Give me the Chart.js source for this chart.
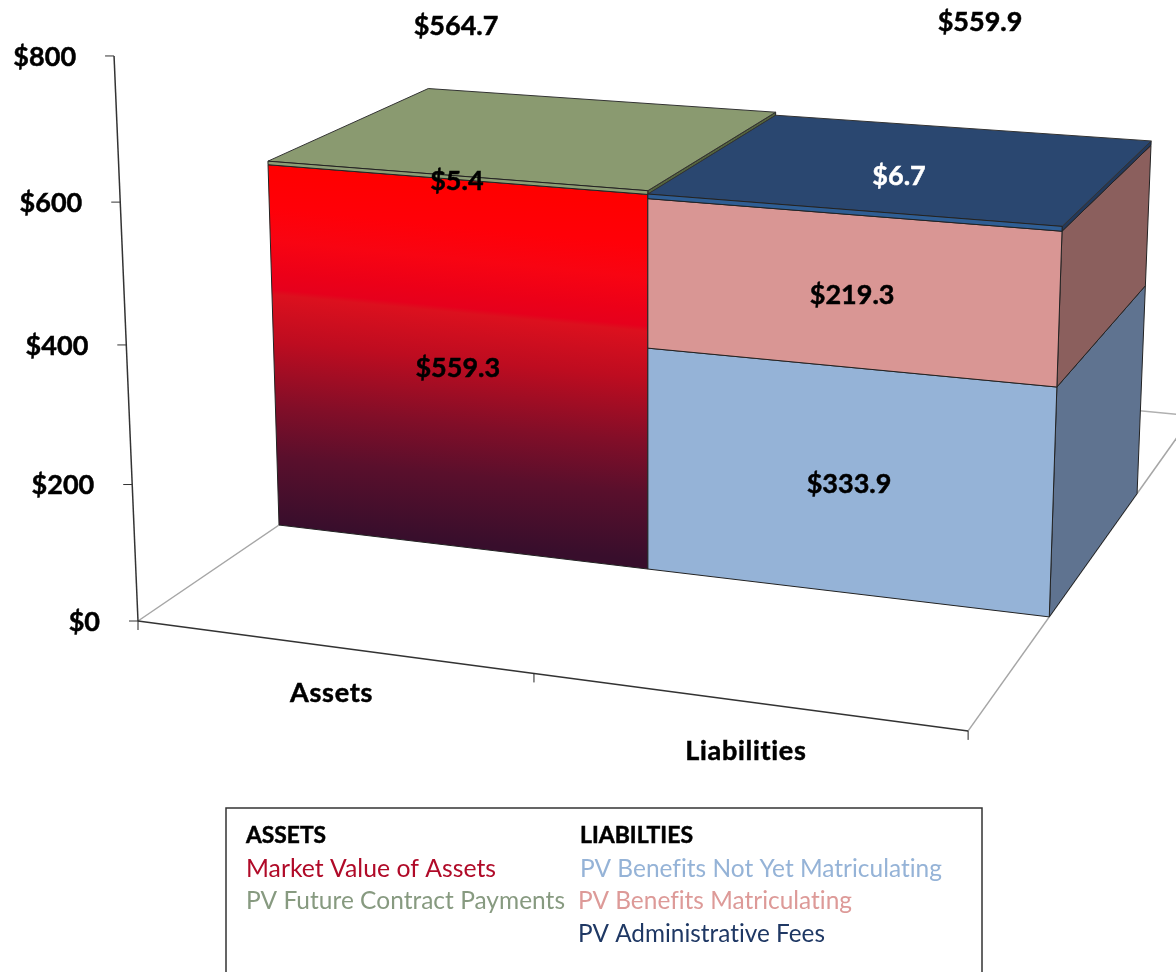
<!DOCTYPE html>
<html>
<head>
<meta charset="utf-8">
<script src="https://cdn.jsdelivr.net/npm/chart.js@4/dist/chart.umd.min.js"></script>
<style>
  html, body { margin: 0; padding: 0; background: #fff; overflow: hidden; }
  canvas { display: block; }
</style>
</head>
<body>
<canvas id="myChart" width="1176" height="972"></canvas>
<script>
// values in $ millions
var categories      = ['Assets', 'Liabilities'];
var market_value    = [559.3, null];
var future_payments = [5.4, null];
var not_matric      = [null, 333.9];
var matriculating   = [null, 219.3];
var admin_fees      = [null, 6.7];
var totals          = [564.7, 559.9];
var y_ticks         = [0, 200, 400, 600, 800];

var legend_heads = ['ASSETS', 'LIABILTIES'];

function money(v){
    return '$' + (Number.isInteger(v) ? v : v.toFixed(1));
}

// camera for the fake 3D look: vanishing points of the three axes + origin
var cam = {
    a: -0.088, b: -0.00005586,
    vx: [-8465, -518], vy: [650, 12700], vz: [1900, -578],
    o: [138, 621]
};
var bar_front = 0.087, bar_back = 0.202, floor_back = 0.289;

function project(u, val, d){
    var wx = cam.a * u, wy = cam.b * val;
    var den = 1 + wx + wy + d;
    return {
        x: (wx * cam.vx[0] + wy * cam.vy[0] + d * cam.vz[0] + cam.o[0]) / den,
        y: (wx * cam.vx[1] + wy * cam.vy[1] + d * cam.vz[1] + cam.o[1]) / den
    };
}

function poly(ctx, pts, fill, stroke){
    ctx.beginPath();
    pts.forEach(function(p, i){ i ? ctx.lineTo(p.x, p.y) : ctx.moveTo(p.x, p.y); });
    ctx.closePath();
    ctx.fillStyle = fill;
    ctx.fill();
    ctx.strokeStyle = stroke || '#222';
    ctx.lineWidth = 1;
    ctx.stroke();
}

function line(ctx, a, b, color, w){
    ctx.beginPath();
    ctx.moveTo(a.x, a.y);
    ctx.lineTo(b.x, b.y);
    ctx.strokeStyle = color;
    ctx.lineWidth = w;
    ctx.stroke();
}

function text(ctx, str, x, y, font, color, align, maxw, spacing){
    ctx.font = font;
    ctx.fillStyle = color;
    ctx.textAlign = align || 'center';
    ctx.textBaseline = 'middle';
    ctx.letterSpacing = spacing || '0.01px';  // also keeps Lato from joining the "ti"
    if (maxw) ctx.fillText(str, x, y + 1, maxw); else ctx.fillText(str, x, y + 1);
    if (font.indexOf('bold') === 0){
        // Lato bold is a bit thin next to the original face
        ctx.strokeStyle = color;
        ctx.lineWidth = 0.5;
        if (maxw) ctx.strokeText(str, x, y + 1, maxw); else ctx.strokeText(str, x, y + 1);
    }
    ctx.letterSpacing = '0px';
}

var BOLD = 'bold 27px Lato';
var LEG  = '25px Lato';

var data = {
    labels: categories,
    datasets: [
        { label: 'Market Value of Assets', data: market_value, stack: 's', backgroundColor: '#ff0000',
          side: '#7a0a20', top: '#c0101a', legendColor: '#b00a28', legendPos: [246, 868], legendW: 250 },
        { label: 'PV Future Contract Payments', data: future_payments, stack: 's', backgroundColor: '#8d9e74',
          side: '#55653f', top: '#8a9a70', legendColor: '#879a80', legendPos: [246, 900], legendW: 319 },
        { label: 'PV Benefits Not Yet Matriculating', data: not_matric, stack: 's', backgroundColor: '#95b3d7',
          side: '#5f7390', top: '#95b3d7', legendColor: '#95b3d7', legendPos: [580, 868], legendW: 362 },
        { label: 'PV Benefits Matriculating', data: matriculating, stack: 's', backgroundColor: '#d99694',
          side: '#8b5f5d', top: '#d99694', legendColor: '#dd9a98', legendPos: [578, 900], legendW: 274 },
        { label: 'PV Administrative Fees', data: admin_fees, stack: 's', backgroundColor: '#2f5e94',
          side: '#22395c', top: '#2a4770', legendColor: '#1f3864', legendPos: [578, 933], legendW: 247 }
    ]
};

// pixel nudges for labels that sit off their segment in the original
var label_shift = { 0: [1, 2], 1: [3, 3], 2: [3, 2], 3: [3, 3], 4: [-9, 9] };
var total_shift = [[-74, -111], [72, -145]];

var bars3d = {
    id: 'bars3d',
    beforeDatasetsDraw: function(){ return false; },
    afterDraw: function(chart){
        var ctx = chart.ctx;
        var xs = chart.scales.x, ys = chart.scales.y;
        var toU = function(px){ return (px - xs.left) / xs.width; };
        ctx.save();

        // floor edges
        line(ctx, project(0, 0, 0), project(0, 0, floor_back), '#a6a6a6', 1.5);
        line(ctx, project(1, 0, 0), project(1, 0, floor_back), '#a6a6a6', 1.5);
        line(ctx, project(0, 0, floor_back), project(1, 0, floor_back), '#b0b0b0', 1.5);

        // axes
        line(ctx, project(0, 0, 0), project(0, ys.max, 0), '#333', 1.5);
        line(ctx, project(0, 0, 0), project(1, 0, 0), '#333', 1.5);
        ys.getTicks().forEach(function(t){
            var p = project(0, t.value, 0);
            line(ctx, {x: p.x - 9, y: p.y}, p, '#333', 1);
            text(ctx, money(t.value), p.x - 38, p.y, BOLD, '#000', 'right');
        });
        for (var i = 0; i <= categories.length; i++){
            var p = project(i / categories.length, 0, 0);
            line(ctx, p, {x: p.x, y: p.y + 9}, '#222', 1);
        }
        categories.forEach(function(c, i){
            var p = project(toU(xs.getPixelForTick(i)), 0, 0);
            text(ctx, c, p.x, p.y + 46 + 3 * i, BOLD, '#000', 'center', null, '0.7px');
        });

        // bars, one stack after the other, lowest segment first
        var labels = [];
        categories.forEach(function(c, j){
            data.datasets.forEach(function(ds, k){
                if (ds.data[j] == null) return;
                var el = chart.getDatasetMeta(k).data[j];
                var u0 = toU(el.x - el.width / 2), u1 = toU(el.x + el.width / 2);
                var v0 = ys.getValueForPixel(el.base), v1 = ys.getValueForPixel(el.y);

                poly(ctx, [project(u1, v0, bar_front), project(u1, v0, bar_back),
                           project(u1, v1, bar_back), project(u1, v1, bar_front)], ds.side);
                poly(ctx, [project(u0, v1, bar_front), project(u1, v1, bar_front),
                           project(u1, v1, bar_back), project(u0, v1, bar_back)], ds.top, '#333');

                var fill = ds.backgroundColor;
                if (k === 0){
                    // front of the market value bar fades to dark, colour bands run along the face
                    var a = project(u0, v1, bar_front), r = project(u1, v1, bar_front);
                    var l = project(u0, v0, bar_front), b = project(u1, v0, bar_front);
                    var ex = (r.x - a.x) + (b.x - l.x), ey = (r.y - a.y) + (b.y - l.y);
                    var t = ((l.x - a.x) * (-ey) + (l.y - a.y) * ex) / (ex * ex + ey * ey);
                    fill = ctx.createLinearGradient(a.x, a.y, a.x - ey * t, a.y + ex * t);
                    fill.addColorStop(0, '#ff0000');
                    fill.addColorStop(0.12, '#ff0008');
                    fill.addColorStop(0.21, '#f80412');
                    fill.addColorStop(0.3, '#ec0018');
                    fill.addColorStop(0.345, '#e6001c');
                    fill.addColorStop(0.36, '#dc101e');
                    fill.addColorStop(0.49, '#be0c20');
                    fill.addColorStop(0.67, '#820e28');
                    fill.addColorStop(0.81, '#5a0f2c');
                    fill.addColorStop(1, '#380e2c');
                }
                poly(ctx, [project(u0, v0, bar_front), project(u1, v0, bar_front),
                           project(u1, v1, bar_front), project(u0, v1, bar_front)], fill);

                var m = project((u0 + u1) / 2, (v0 + v1) / 2, bar_front);
                var sh = label_shift[k] || [0, 0];
                if (k === 4) m = project((u0 + u1) / 2, v1, (bar_front + bar_back) / 2);
                labels.push({ str: money(ds.data[j]), x: m.x + sh[0], y: m.y + sh[1], color: k === 4 ? '#fff' : '#000' });
            });
        });
        labels.forEach(function(l){ text(ctx, l.str, l.x, l.y, BOLD, l.color); });

        // totals float above the stacks
        totals.forEach(function(v, j){
            var p = project(toU(xs.getPixelForTick(j)), v, (bar_front + bar_back) / 2);
            text(ctx, money(v), p.x + total_shift[j][0], p.y + total_shift[j][1], BOLD, '#000');
        });

        // legend box, runs off the bottom like the original
        ctx.strokeStyle = '#333';
        ctx.lineWidth = 1.5;
        ctx.strokeRect(226, 808, 756, 200);
        text(ctx, legend_heads[0], 246, 835, 'bold 23px Lato', '#000', 'left', 80);
        text(ctx, legend_heads[1], 580, 835, 'bold 23px Lato', '#000', 'left', 113);
        data.datasets.forEach(function(ds){
            text(ctx, ds.label, ds.legendPos[0], ds.legendPos[1], LEG, ds.legendColor, 'left', ds.legendW);
        });

        ctx.restore();
    }
};

var config = {
    type: 'bar',
    data: data,
    plugins: [bars3d],
    options: {
        responsive: false,
        animation: false,
        layout: { padding: 0 },
        datasets: { bar: { barPercentage: 1, categoryPercentage: 1 } },
        plugins: { legend: { display: false }, tooltip: { enabled: false } },
        scales: {
            x: { display: false, stacked: true },
            y: { display: false, stacked: true, min: y_ticks[0], max: y_ticks[y_ticks.length - 1],
                 ticks: { stepSize: 200 } }
        }
    }
};

var myChart = new Chart(document.getElementById('myChart'), config);
</script>
</body>
</html>
